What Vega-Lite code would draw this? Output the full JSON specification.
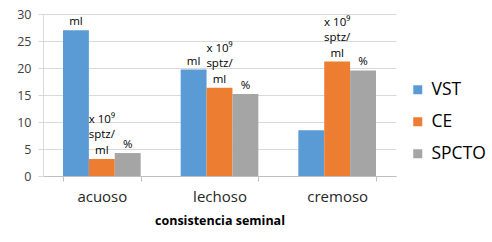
{
  "$schema": "https://vega.github.io/schema/vega-lite/v6.json",
  "autosize": "none",
  "width": 353,
  "height": 162,
  "padding": {"left": 43, "top": 14, "right": 96, "bottom": 66},
  "background": "white",
  "config": {"font": "Open Sans", "view": {"stroke": null}},
  "datasets": {
    "bars": [
      {"consistencia": "acuoso", "serie": "VST", "valor": 27.0, "linea1": "", "linea2": "", "linea3": "ml"},
      {"consistencia": "acuoso", "serie": "CE", "valor": 3.15, "linea1": "x 10⁹", "linea2": "sptz/", "linea3": "ml"},
      {"consistencia": "acuoso", "serie": "SPCTO", "valor": 4.25, "linea1": "", "linea2": "", "linea3": "%"},
      {"consistencia": "lechoso", "serie": "VST", "valor": 19.7, "linea1": "", "linea2": "", "linea3": "ml"},
      {"consistencia": "lechoso", "serie": "CE", "valor": 16.35, "linea1": "x 10⁹", "linea2": "sptz/", "linea3": "ml"},
      {"consistencia": "lechoso", "serie": "SPCTO", "valor": 15.2, "linea1": "", "linea2": "", "linea3": "%"},
      {"consistencia": "cremoso", "serie": "VST", "valor": 8.45, "linea1": "", "linea2": "", "linea3": ""},
      {"consistencia": "cremoso", "serie": "CE", "valor": 21.2, "linea1": "x 10⁹", "linea2": "sptz/", "linea3": "ml"},
      {"consistencia": "cremoso", "serie": "SPCTO", "valor": 19.55, "linea1": "", "linea2": "", "linea3": "%"}
    ]
  },
  "data": {"name": "bars"},
  "encoding": {
    "x": {
      "field": "consistencia", "type": "nominal", "sort": ["acuoso", "lechoso", "cremoso"],
      "scale": {"paddingInner": 0.34, "paddingOuter": 0.17},
      "axis": {
        "title": "consistencia seminal", "titleFontSize": 12.5, "titleFontWeight": "bold", "titleColor": "#000000", "titlePadding": 10,
        "labelAngle": 0, "labelFontSize": 15, "labelColor": "#262626", "labelPadding": 8,
        "tickBand": "extent", "tickSize": 5, "tickColor": "#BFBFBF", "domainColor": "#BFBFBF", "grid": false
      }
    },
    "xOffset": {"field": "serie", "type": "nominal", "sort": ["VST", "CE", "SPCTO"], "scale": {"paddingInner": 0}},
    "y": {
      "field": "valor", "type": "quantitative",
      "scale": {"domain": [0, 30]},
      "axis": {
        "title": null, "values": [0, 5, 10, 15, 20, 25, 30], "labelFontSize": 12.5, "labelColor": "#404040",
        "tickSize": 5, "tickColor": "#D9D9D9", "labelPadding": 7, "domainColor": "#D9D9D9", "gridColor": "#D9D9D9"
      }
    }
  },
  "layer": [
    {
      "mark": {"type": "bar"},
      "encoding": {
        "color": {
          "field": "serie", "type": "nominal", "sort": ["VST", "CE", "SPCTO"],
          "scale": {"domain": ["VST", "CE", "SPCTO"], "range": ["#5B9BD5", "#ED7D31", "#A5A5A5"]},
          "legend": {
            "title": null, "orient": "none", "legendX": 366, "legendY": 67,
            "symbolType": "square", "symbolSize": 81, "symbolStrokeWidth": 0,
            "labelFontSize": 17.5, "labelColor": "#000000", "labelOffset": 5, "rowPadding": 13
          }
        }
      }
    },
    {
      "mark": {"type": "text", "baseline": "bottom", "align": "center", "dy": -3, "fontSize": 11.5, "color": "#000000"},
      "encoding": {"text": {"field": "linea3"}}
    },
    {
      "mark": {"type": "text", "baseline": "bottom", "align": "center", "dy": -18.5, "fontSize": 11.5, "color": "#000000"},
      "encoding": {"text": {"field": "linea2"}}
    },
    {
      "mark": {"type": "text", "baseline": "bottom", "align": "center", "dy": -34, "fontSize": 11.5, "color": "#000000"},
      "encoding": {"text": {"field": "linea1"}}
    }
  ]
}
